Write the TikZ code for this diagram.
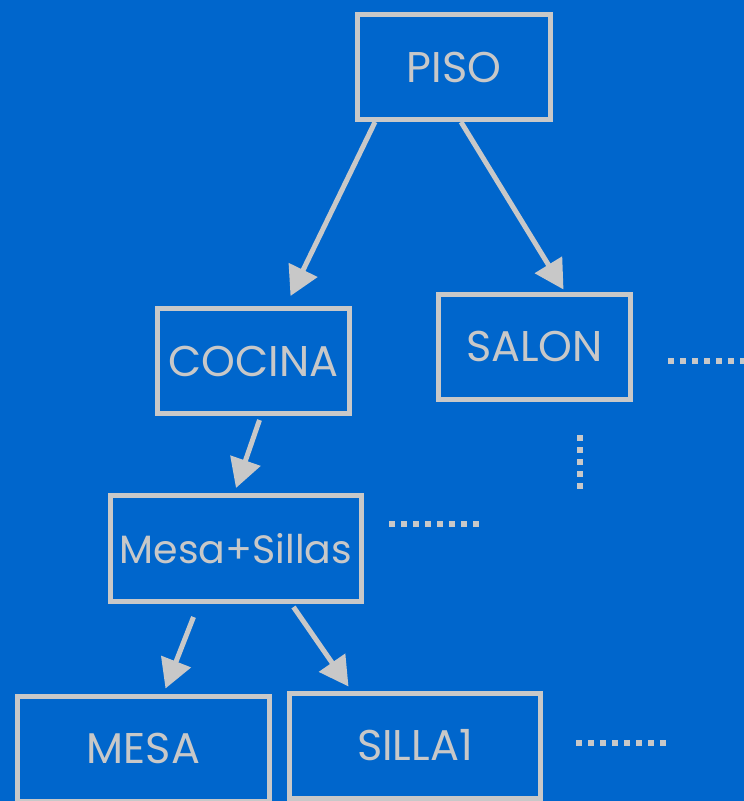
\documentclass[tikz,border=0pt]{standalone}
\usepackage{fontspec}
\setmainfont{Poppins}
\usetikzlibrary{arrows.meta}
\definecolor{bg}{HTML}{0066CC}
\definecolor{ln}{HTML}{C8C8C8}
\tikzset{
  box/.style={draw=ln, line width=5pt, inner sep=0pt, minimum height=105pt,
    text=ln, font=\fontsize{43}{45}\selectfont},
  link/.style={draw=ln, line width=5pt, -{Triangle[length=29pt,width=31pt]}},
  dots/.style={draw=ln, line width=6pt, dash pattern=on 6pt off 6pt},
}
\begin{document}
\begin{tikzpicture}[x=1pt, y=-1pt]
  \fill[bg] (0,0) rectangle (744,801);
  \useasboundingbox (0,0) rectangle (744,801);
  \clip (0,0) rectangle (744,801);

  % boxes
  \node[box, minimum width=193pt] (piso) at (454,67) {PISO};
  \node[box, minimum width=192pt] (cocina) at (253.5,361) {COCINA};
  \node[box, minimum width=192pt] (salon) at (534.5,346.5) {SALON};
  \node[box, minimum width=251pt, minimum height=106pt,
        font=\fontsize{39.5}{42}\selectfont] (ms) at (236,548.5) {Mesa+Sillas};
  \node[box, minimum width=252pt] (mesa) at (143.5,748.5) {MESA};
  \node[box, minimum width=251pt] (silla) at (415,745.5) {SILLA1};

  % arrows
  \draw[link] ([xshift=20pt]piso.south west) -- ([xshift=135.5pt,yshift=10pt]cocina.north west);
  \draw[link] ([xshift=7pt]piso.south) -- ([xshift=127.5pt,yshift=2pt]salon.north west);
  \draw[link] ([xshift=104.5pt,yshift=-4pt]cocina.south west) -- ([yshift=5pt]ms.north);
  \draw[link] ([xshift=85.5pt,yshift=-13pt]ms.south west) -- ([xshift=150.5pt,yshift=5pt]mesa.north west);
  \draw[link] ([xshift=185.5pt,yshift=-3pt]ms.south west) -- ([xshift=61.5pt,yshift=4pt]silla.north west);

  % continuation dots
  \coordinate (d1a) at (668,361); \coordinate (d1b) at (750,361);
  \coordinate (d2a) at (580,435); \coordinate (d2b) at (580,490);
  \coordinate (d3a) at (389,524); \coordinate (d3b) at (480,524);
  \coordinate (d4a) at (576,743); \coordinate (d4b) at (666,743);
  \draw[dots] (d1a) -- (d1b);
  \draw[dots] (d2a) -- (d2b);
  \draw[dots] (d3a) -- (d3b);
  \draw[dots] (d4a) -- (d4b);
\end{tikzpicture}
\end{document}
